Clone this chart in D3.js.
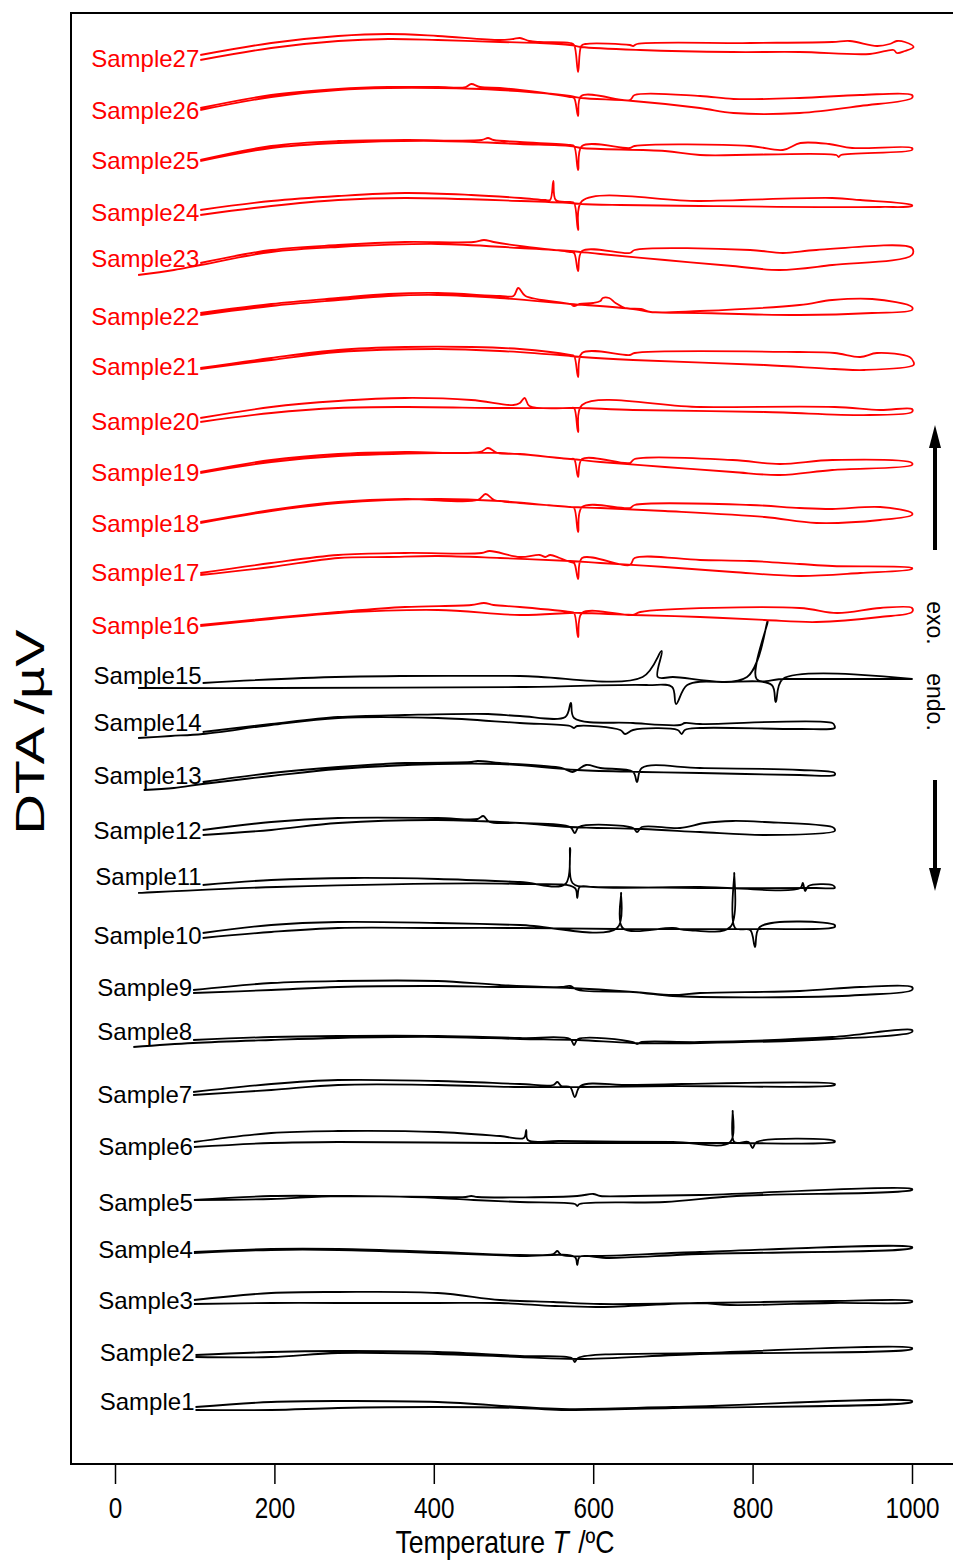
<!DOCTYPE html>
<html>
<head>
<meta charset="utf-8">
<script src="https://cdn.jsdelivr.net/npm/d3@7"></script>
<style>
  body { margin: 0; background: #fff; }
</style>
</head>
<body>
<script>
// sample names, bottom to top
const names = ["Sample1", "Sample2", "Sample3", "Sample4", "Sample5", "Sample6", "Sample7", "Sample8", "Sample9",
    "Sample10", "Sample11", "Sample12", "Sample13", "Sample14", "Sample15", "Sample16", "Sample17", "Sample18",
    "Sample19", "Sample20", "Sample21", "Sample22", "Sample23", "Sample24", "Sample25", "Sample26", "Sample27"];
// vertical stacking offset of every trace (DTA units)
const offsets = [55, 107, 161, 211, 263, 317, 369, 423, 472, 527, 577, 631, 681, 731, 780,
    838, 889, 941, 991, 1043, 1095, 1150, 1200, 1251, 1303, 1353, 1405];
// where the name of each trace sits (DTA units)
const labelAt = [62, 111, 163, 214, 261, 317, 369, 432, 476, 528, 587, 633, 688, 741, 788,
    838, 891, 940, 991, 1042, 1097, 1147, 1205, 1251, 1303, 1353, 1405];
const firstRed = 16;
const tempTicks = [0, 200, 400, 600, 800, 1000];

// each trace: [T, DTA] going out along the upper branch, back along the lower one
const s1 = [[101, 1], [196, 6], [280, 7], [405, 6], [508, 1], [560, -1], [700, 1], [1000, 7],
    [1000, 6], [700, 0], [560, -2], [508, 0], [405, 1], [280, 0], [196, -2], [101, -2]];
const s2 = [[101, 1], [196, 4], [280, 5], [405, 4], [508, 0], [573, -2], [577, -6], [581, -2], [734, 3], [1000, 8],
    [1000, 7], [734, 2], [581, -3], [508, -1], [405, 2], [280, 3], [196, -1], [101, -1]];
const s3 = [[99, 2], [196, 9], [280, 10], [405, 9], [483, 2], [550, 0], [609, -2], [734, -1], [900, 1], [1000, 1],
    [1000, 0], [900, -1], [772, -3], [734, -1], [609, -5], [552, -4], [483, -1], [405, -1], [280, -1], [196, -1], [99, -2]];
const s4 = [[99, 0], [196, 3], [280, 3], [405, 0], [508, -3], [550, -2], [555, 1], [560, -3], [600, -4], [734, 0], [1000, 5],
    [1000, 4], [734, -2], [620, -6], [583, -5], [580, -13], [577, -5], [508, -4], [405, -1], [280, 2], [196, 2], [99, -1]];
const s5 = [[99, 0], [196, 4], [280, 4], [405, 3], [440, 3], [447, 4], [455, 3], [580, 4], [600, 6], [609, 4], [650, 4], [734, 5], [1000, 11],
    [1000, 10], [780, 4], [690, -2], [583, -4], [580, -6], [577, -4], [508, -2], [450, 0], [405, 2], [280, 4], [196, 1], [99, 0]];
const s6 = [[99, 4], [196, 13], [280, 15], [405, 14], [483, 10], [513, 8], [516, 16], [518, 6], [558, 5], [700, 4], [772, 4], [775, 35], [777, 4],
    [795, 4], [800, -2], [805, 4], [903, 5],
    [903, 4], [775, 3], [700, 3], [640, 3], [483, 3], [280, 4], [196, 3], [99, -1]];
const s7 = [[98, 2], [196, 10], [280, 14], [405, 13], [508, 10], [550, 9], [555, 12], [560, 8], [571, 7], [577, -3], [584, 8], [650, 9], [903, 10],
    [903, 9], [700, 8], [584, 7], [508, 7], [405, 9], [280, 9], [196, 4], [98, -1]];
const s8 = [[98, 0], [196, 3], [280, 4], [405, 4], [508, 2], [571, 1], [576, -5], [581, 1], [650, -2], [655, -4], [661, -2], [734, -2], [900, 3], [1000, 10],
    [1000, 8], [900, 1], [734, -3], [650, -3], [581, 0], [508, 1], [405, 3], [280, 2], [196, 0], [98, -3], [23, -7]];
const s9 = [[98, 1], [196, 8], [280, 10], [405, 10], [483, 6], [560, 4], [571, 5], [581, 1], [650, -1], [700, -4], [734, -2], [859, 0], [935, 4], [1000, 4],
    [1000, 1], [935, -4], [859, -6], [734, -6], [700, -5], [650, -1], [571, 3], [483, 4], [405, 5], [280, 4], [196, 1], [98, -2]];
const s10 = [[110, 3], [196, 11], [280, 14], [405, 13], [508, 11], [630, 8], [635, 43], [637, 8], [700, 8], [718, 6], [772, 9], [777, 63], [778, 8],
    [797, 6], [803, -11], [809, 9], [903, 11],
    [903, 9], [809, 7], [700, 7], [630, 7], [508, 8], [405, 8], [280, 8], [196, 4], [110, -2]];
const s11 = [[110, 1], [196, 6], [300, 8], [405, 7], [508, 4], [565, 2], [571, 38], [574, 3], [600, -1], [734, -1], [860, -2], [863, 3], [866, -5], [870, 0], [900, 1], [903, -1],
    [903, -2], [880, -2], [734, -2], [600, -1], [583, -1], [580, -12], [577, -2], [508, 2], [203, -1], [29, -7]];
const s12 = [[110, 2], [196, 10], [280, 14], [405, 14], [455, 13], [462, 16], [470, 10], [508, 9], [571, 5], [577, -1], [582, 5], [650, 4], [655, 0], [661, 5],
    [709, 4], [740, 9], [775, 11], [815, 10], [900, 5], [903, 3],
    [903, 1], [815, -3], [734, 0], [661, 3], [571, 5], [508, 9], [405, 12], [280, 9], [196, 2], [110, -3]];
const s13 = [[110, 0], [196, 9], [280, 15], [364, 19], [447, 20], [455, 21], [483, 19], [560, 14], [574, 10], [580, 12], [591, 17], [609, 14], [650, 10],
    [655, 0], [661, 14], [734, 14], [859, 12], [903, 9],
    [903, 7], [859, 7], [734, 9], [661, 10], [580, 12], [483, 18], [405, 18], [280, 13], [196, 6], [110, -2], [74, -6], [36, -8]];
const s14 = [[110, 0], [196, 8], [280, 15], [364, 17], [468, 18], [508, 16], [565, 15], [572, 29], [576, 14], [650, 9], [709, 7], [715, 9], [734, 8], [900, 9], [903, 6],
    [903, 4], [859, 3], [734, 4], [715, 2], [711, -2], [706, 2], [650, 2], [640, -2], [634, 2], [580, 6], [576, 4], [571, 6], [508, 9], [405, 14],
    [280, 14], [196, 7], [110, -2], [70, -4], [29, -6]];
const s15 = [[110, 0], [236, 5], [358, 7], [508, 7], [662, 6], [686, 32], [681, 6], [700, 6], [793, 6], [819, 62], [805, 4], [840, 4], [1000, 4],
    [1000, 4], [838, 4], [829, -19], [824, -2], [767, 1], [718, -2], [704, -21], [699, -4], [667, -2], [508, -4], [200, -5], [29, -5]];
const s16 = [[107, 0], [196, 7], [280, 13], [364, 18], [447, 20], [463, 22], [475, 20], [508, 18], [571, 13], [576, 12], [581, -12], [586, 12],
    [650, 10], [659, 13], [859, 17], [906, 12], [960, 17], [1000, 17],
    [1000, 13], [960, 8], [880, 3], [815, 5], [734, 8], [650, 10], [586, 12], [571, 12], [508, 10], [405, 15], [280, 12], [196, 6], [107, -1]];
const s17 = [[107, 1], [196, 11], [280, 19], [364, 21], [460, 21], [470, 23], [508, 17], [533, 19], [540, 17], [546, 19], [558, 16], [571, 12], [576, 11],
    [581, -5], [586, 16], [646, 9], [652, 16], [734, 14], [797, 13], [859, 10], [900, 8], [1000, 6],
    [1000, 5], [935, 1], [859, -2], [775, 2], [690, 7], [609, 11], [571, 13], [483, 16], [405, 18], [343, 17], [280, 16], [196, 7], [107, -1]];
const s18 = [[107, 0], [196, 12], [280, 20], [364, 23], [455, 22], [465, 28], [476, 22], [508, 19], [571, 15], [576, 14], [581, -10], [586, 15], [646, 14],
    [652, 17], [797, 17], [859, 14], [900, 13], [960, 15], [1000, 9],
    [1000, 7], [960, 2], [880, -1], [815, 5], [690, 11], [609, 14], [571, 15], [483, 21], [405, 23], [280, 19], [196, 11], [107, -1]];
const s19 = [[107, 0], [196, 12], [280, 18], [364, 20], [458, 20], [468, 24], [480, 19], [508, 18], [571, 13], [576, 13], [581, -5], [586, 13], [646, 9],
    [652, 13], [775, 12], [834, 8], [900, 12], [1000, 9],
    [1000, 7], [900, 2], [834, -3], [775, 0], [690, 5], [609, 10], [571, 13], [483, 19], [405, 19], [280, 16], [196, 10], [107, -1]];
const s20 = [[107, 2], [196, 13], [280, 19], [364, 22], [447, 20], [500, 15], [508, 17], [514, 22], [520, 14], [571, 12], [576, 12], [581, -12], [586, 15],
    [734, 13], [903, 13], [960, 10], [1000, 11],
    [1000, 8], [947, 5], [815, 8], [650, 10], [585, 12], [571, 12], [488, 12], [364, 13], [280, 12], [196, 7], [107, -2]];
const s21 = [[107, 0], [196, 10], [280, 18], [364, 21], [447, 21], [508, 19], [571, 13], [576, 12], [581, -9], [586, 15], [646, 13], [652, 15], [859, 16],
    [903, 15], [935, 11], [956, 15], [997, 11], [1002, 6],
    [1002, 3], [940, -2], [903, -1], [815, 3], [650, 8], [585, 11], [571, 12], [483, 17], [405, 19], [280, 16], [196, 8], [107, -1]];
const s22 = [[107, 0], [196, 9], [280, 15], [343, 19], [405, 20], [483, 17], [500, 17], [506, 25], [515, 17], [571, 9], [576, 7], [583, 9], [600, 10],
    [609, 12], [612, 15], [620, 15], [628, 10], [640, 5], [660, 4], [672, 1], [734, 2], [859, 8], [900, 13], [950, 14], [1000, 6],
    [1000, 3], [950, 0], [859, -2], [734, 0], [672, 1], [650, 4], [590, 8], [571, 9], [483, 15], [405, 18], [343, 17], [280, 13], [196, 7], [107, -2]];
const s23 = [[107, 0], [196, 13], [280, 18], [364, 21], [450, 21], [463, 23], [475, 21], [508, 17], [571, 11], [576, 10], [581, -8], [586, 12], [646, 10],
    [652, 13], [797, 13], [838, 10], [880, 13], [1000, 15],
    [1000, 8], [900, -2], [834, -7], [775, -3], [690, 3], [609, 9], [571, 12], [508, 15], [405, 19], [280, 16], [196, 11], [107, -2], [74, -7], [29, -12]];
const s24 = [[107, 2], [196, 11], [280, 16], [364, 19], [447, 17], [509, 14], [540, 12], [546, 12], [550, 31], [553, 12], [571, 10], [576, 9], [581, -18],
    [586, 11], [734, 11], [900, 14], [935, 12], [1000, 7],
    [1000, 6], [960, 5], [734, 6], [634, 7], [585, 8], [571, 9], [509, 11], [364, 14], [280, 12], [196, 6], [107, -3]];
const s25 = [[107, 0], [196, 14], [280, 19], [364, 20], [460, 20], [468, 22], [475, 20], [508, 18], [571, 15], [576, 14], [581, -10], [586, 14], [646, 12],
    [652, 14], [797, 14], [838, 10], [860, 17], [896, 16], [925, 12], [1000, 12],
    [1000, 10], [911, 5], [908, 3], [905, 5], [734, 5], [690, 9], [585, 12], [571, 14], [508, 16], [405, 19], [280, 17], [196, 12], [107, -1]];
const s26 = [[107, 2], [196, 15], [280, 21], [343, 23], [405, 23], [440, 23], [447, 26], [458, 23], [483, 22], [508, 20], [571, 13], [576, 12], [581, -6],
    [585, 14], [646, 10], [652, 15], [734, 14], [776, 11], [859, 12], [935, 15], [1000, 15],
    [1000, 12], [935, 4], [859, -3], [776, -3], [734, 2], [650, 9], [585, 12], [571, 14], [483, 20], [405, 22], [343, 22], [280, 20], [196, 13], [107, 0]];
const s27 = [[107, 3], [196, 15], [280, 22], [343, 24], [405, 22], [483, 18], [500, 19], [508, 20], [520, 17], [533, 16], [571, 15], [576, 13], [581, -14],
    [585, 12], [590, 14], [646, 13], [650, 12], [655, 14], [797, 15], [900, 16], [922, 17], [956, 12], [972, 14], [981, 17], [991, 16], [1002, 11],
    [991, 7], [981, 5], [977, 8], [947, 4], [859, 6], [775, 6], [659, 8], [585, 11], [571, 13], [533, 15], [483, 16], [405, 18], [343, 19], [280, 17], [196, 10], [107, -2]];

const traces = [s1, s2, s3, s4, s5, s6, s7, s8, s9, s10, s11, s12, s13, s14, s15, s16, s17, s18,
    s19, s20, s21, s22, s23, s24, s25, s26, s27];

const width = 953, height = 1562;
const frame = { left: 71, top: 13, bottom: 1464, right: 953 };

const svg = d3.select("body").append("svg")
    .attr("width", width)
    .attr("height", height)
    .style("font-family", "'Liberation Sans', Arial, sans-serif");

const x = d3.scaleLinear().domain([0, 1000]).range([115, 912]);
const y = d3.scaleLinear().domain([0, 1450]).range([1463, 13]);

// frame (left, top, bottom)
svg.append("path")
    .attr("d", `M${frame.right},${frame.top}H${frame.left}V${frame.bottom}H${frame.right}`)
    .attr("fill", "none")
    .attr("stroke", "#000")
    .attr("stroke-width", 2);

// x axis
const xAxis = svg.append("g")
    .attr("transform", "translate(0," + frame.bottom + ")")
    .call(d3.axisBottom(x).tickValues(tempTicks).tickFormat(d3.format("d"))
        .tickSize(20).tickSizeOuter(0).tickPadding(13));
xAxis.select(".domain").remove();
xAxis.selectAll(".tick line").attr("stroke-width", 1.5);
xAxis.selectAll(".tick text")
    .style("font-size", "29px")
    .attr("textLength", d => String(d).length * 13.5)
    .attr("lengthAdjust", "spacingAndGlyphs")
    .attr("fill", "#000");

// x title, squeezed horizontally like a narrow face
const xTitle = svg.append("text")
    .attr("transform", "translate(505,1553) scale(0.86,1)")
    .attr("text-anchor", "middle")
    .style("font-size", "31px");
xTitle.append("tspan").text("Temperature ");
xTitle.append("tspan").style("font-style", "italic").text("T");
xTitle.append("tspan").attr("dx", 11).text("/ºC");

// y title
svg.append("text")
    .attr("transform", "translate(44,732) rotate(-90)")
    .attr("text-anchor", "middle")
    .attr("textLength", 205)
    .attr("lengthAdjust", "spacingAndGlyphs")
    .style("font-size", "40px")
    .text("DTA /µV");

// traces
const line = d3.line()
    .x(d => x(d[0]))
    .y(d => d[1])
    .curve(d3.curveCatmullRom.alpha(0.5));

traces.forEach((tr, i) => {
    const colour = (i + 1) >= firstRed ? "#ff0000" : "#000";
    const pts = tr.map(d => [d[0], y(offsets[i] + d[1])]);
    svg.append("path")
        .attr("d", line(pts))
        .attr("fill", "none")
        .attr("stroke", colour)
        .attr("stroke-width", 1.8)
        .attr("stroke-linejoin", "round");
    svg.append("text")
        .attr("x", x(tr[0][0]) - 1)
        .attr("y", y(labelAt[i]))
        .attr("dy", "0.36em")
        .attr("text-anchor", "end")
        .attr("fill", colour)
        .style("font-size", "24px")
        .text(names[i]);
});

// exo / endo arrows
const ax = 935;
svg.append("line").attr("x1", ax).attr("x2", ax).attr("y1", 550).attr("y2", 445)
    .attr("stroke", "#000").attr("stroke-width", 4);
svg.append("path").attr("d", `M${ax},425L${ax - 6},448L${ax + 6},448Z`).attr("fill", "#000");
svg.append("line").attr("x1", ax).attr("x2", ax).attr("y1", 780).attr("y2", 870)
    .attr("stroke", "#000").attr("stroke-width", 4);
svg.append("path").attr("d", `M${ax},891L${ax - 6},868L${ax + 6},868Z`).attr("fill", "#000");

svg.append("text")
    .attr("transform", `translate(${ax - 8},623) rotate(90)`)
    .attr("text-anchor", "middle")
    .style("font-size", "23px")
    .text("exo.");
svg.append("text")
    .attr("transform", `translate(${ax - 8},702) rotate(90)`)
    .attr("text-anchor", "middle")
    .style("font-size", "23px")
    .text("endo.");
</script>
</body>
</html>
